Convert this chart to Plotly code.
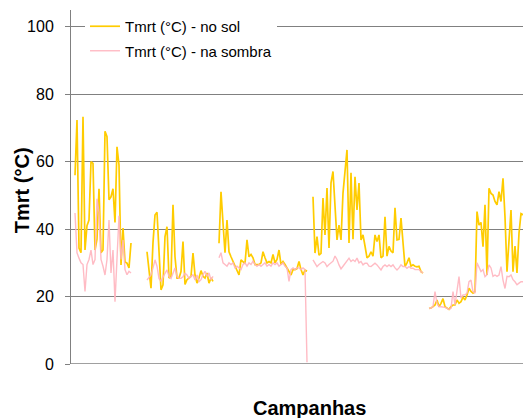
import plotly.graph_objects as go

# Campaign readings (one value per observation); None = no reading between campaigns
sol_c1 = [56, 72.4, 34.4, 33, 73.3, 33.8, 41, 42.7, 60, 59.5, 33.8, 37, 52, 33, 33.8, 69, 67.4,
          48.7, 49.6, 52, 42, 64.4, 59, 29.4, 40.3, 30.3, 29.9, 28.5, 35.9]
sombra_c1 = [44.8, 33, 31.4, 30, 29.5, 21.5, 29.5, 31, 33.8, 29.5, 31, 49, 45, 31, 29, 26.4, 31,
             42.7, 27, 33.8, 18.5, 31, 44, 31, 36.8, 28, 26.5, 27.5, 27]

sol_c2 = [33.3, 28, 22.5, 36, 44.2, 45, 31.8, 22, 23.5, 37.8, 40.7, 25.5, 26, 47.2, 31.8, 25.5, 25.5,
          27.4, 36.3, 23.6, 25, 25.5, 26, 32.9, 26.4, 24, 25.5, 27.7, 26, 25.5, 27, 24, 25.5, 24.5]
sombra_c2 = [24.9, 25.5, 26.4, 28.5, 30.9, 29, 25.4, 24.5, 25.9, 26.9, 27.9, 26, 25.4, 26.9, 28.5, 26,
             25.4, 25.4, 25.9, 26.9, 26.4, 25.4, 25.9, 26.5, 24.9, 26.4, 24.4, 25, 26.5, 27.5, 26, 27, 25, 26]

sol_c3 = [35.8, 51.1, 41.8, 33, 42.7, 33.3, 31.8, 30.4, 29.3, 27.9, 26.4, 30.9, 30.4, 29.8, 36.8, 31.8,
          32.5, 31.5, 29.5, 29.6, 29.5, 30, 33.3, 31.5, 30, 30.4, 30, 32.5, 30, 31, 33.8, 29.5, 30.4,
          29.5, 28.5, 27.5, 26.4, 28, 28, 28.3, 30.4, 28, 26.4, 27.9, 27.5]
sombra_c3 = [31.5, 33, 30, 29.5, 29, 30, 29.5, 30, 28.5, 29, 28.5, 28, 29.5, 30, 29, 30, 29.5, 30.5,
             29.5, 29, 29.5, 29, 29.5, 30, 29, 29.5, 29, 30, 29.5, 30, 29, 29.5, 30, 29, 28.5, 24.5,
             28, 28.5, 28, 28.5, 28.5, 28, 28.5, 28, 0.5]

sol_c4 = [49.6, 32.9, 37.8, 32.3, 32.8, 49.2, 38.3, 52.2, 34.4, 53.7, 57.1, 47.8, 36.8, 41.2, 36.8, 50.7,
          57.6, 63.5, 35.9, 56.7, 37, 55.5, 45.7, 53.7, 36.8, 38.3, 35, 31.5, 32, 33.3, 32, 38.3, 36.3,
          38.3, 31.5, 32, 43.7, 32, 34.9, 33.5, 33, 46.3, 36.8, 37, 43.3, 36, 28.9, 30, 31.5, 29, 29.4,
          29, 28.8, 29, 27.4, 27]
sombra_c4 = [30.9, 30, 28.9, 29.5, 29.9, 30.4, 30, 28.9, 29.5, 29.9, 30.5, 32, 31, 29.4, 28.2, 29, 29.9,
             30.5, 31.4, 30.4, 30.9, 30.4, 31.4, 30, 30.4, 29.4, 29.9, 29.9, 29, 28.9, 29.5, 29.9, 29.4,
             28.5, 27.9, 28.9, 29.4, 28.9, 29.4, 28.9, 29.4, 28.5, 27.9, 28.5, 29.4, 28.9, 28.9, 28.4,
             28.9, 28.4, 28.4, 28, 27.9, 28, 27.4, 27]

sol_c5 = [16.5, 16.6, 17, 17.5, 19, 17, 18, 19.4, 17, 16.5, 16.2, 17, 17.5, 17.5, 19, 18, 18.5, 19.8,
          19, 20.5, 22.5, 21.5, 21, 21.5,
          45.2, 41.2, 42, 34.8, 47.2, 26.4, 52.1, 50.6, 50.1, 48.2, 47.2, 51.1, 48.2, 55.1, 43.6, 27.4,
          35.9, 45.7, 27.4, 35, 27, 38.8, 44.6, 44.3]
sombra_c5 = [16.5, 16.6, 17, 21.5, 18, 17, 17, 17, 16.8, 16.5, 16.2, 16.5, 21.5, 17.5, 21.5, 25.9, 19.5,
             20.5, 20.5, 21, 24.4, 24.9, 21.5, 21,
             30, 28.9, 27.4, 28, 25.9, 26.5, 29.4, 28.5, 26, 26.4, 26, 26.4, 28.9, 24.9, 22.4, 26, 25.9,
             26.4, 25, 24.4, 23.5, 24, 24.4, 24.4]

missing_between = [7, 2, 2, 2]  # observations without readings between campaigns

sol_campaigns = [sol_c1, sol_c2, sol_c3, sol_c4, sol_c5]
sombra_campaigns = [sombra_c1, sombra_c2, sombra_c3, sombra_c4, sombra_c5]


def join(campaigns):
    out = []
    for i, c in enumerate(campaigns):
        out += c
        if i < len(missing_between):
            out += [None] * missing_between[i]
    return out


sol = join(sol_campaigns)
sombra = join(sombra_campaigns)
x = list(range(len(sol)))

y_ticks = [0, 20, 40, 60, 80, 100]

FONT = "Arial, Liberation Sans, sans-serif"

fig = go.Figure()
fig.add_trace(go.Scatter(x=x, y=sol, mode="lines", name="Tmrt (°C) - no sol",
                         line=dict(color="#FFCC00", width=1.7), connectgaps=False,
                         legendgroup="a"))
fig.add_trace(go.Scatter(x=x, y=sombra, mode="lines", name="Tmrt (°C) - na sombra",
                         line=dict(color="rgba(255,180,190,0.9)", width=1.4), connectgaps=False,
                         legendgroup="b"))

fig.update_layout(
    width=523, height=418,
    margin=dict(l=71, r=0, t=10, b=54),
    paper_bgcolor="white", plot_bgcolor="white",
    font=dict(family=FONT, color="black"),
    showlegend=True,
    legend=dict(x=0.031, y=1.0, xanchor="left", yanchor="top", bgcolor="white",
                font=dict(size=15, family=FONT), tracegroupgap=2,
                traceorder="grouped"),
    xaxis=dict(range=[-2, len(sol) - 1], showticklabels=False, ticks="", showgrid=False,
               zeroline=False, showline=False),
    yaxis=dict(range=[0, 105], tickvals=y_ticks, ticks="outside", ticklen=5, tickcolor="#808080",
               showgrid=True, gridcolor="#808080", gridwidth=1, zeroline=False,
               showline=True, linecolor="#808080", linewidth=1,
               tickfont=dict(size=16, family=FONT), ticklabelstandoff=8),
    annotations=[
        dict(text="<b>Tmrt (°C)</b>", xref="paper", yref="paper", x=-0.108, y=0.4915,
             xanchor="center", yanchor="middle", textangle=-90, showarrow=False,
             font=dict(size=20, family=FONT, color="black")),
        dict(text="<b>Campanhas</b>", xref="paper", yref="paper", x=0.527, y=-0.124,
             xanchor="center", yanchor="middle", showarrow=False,
             font=dict(size=20, family=FONT, color="black")),
    ],
)

# x axis baseline at 0
fig.add_hline(y=0, line=dict(color="#808080", width=1.5), layer="below")

fig.write_html("out.html")
